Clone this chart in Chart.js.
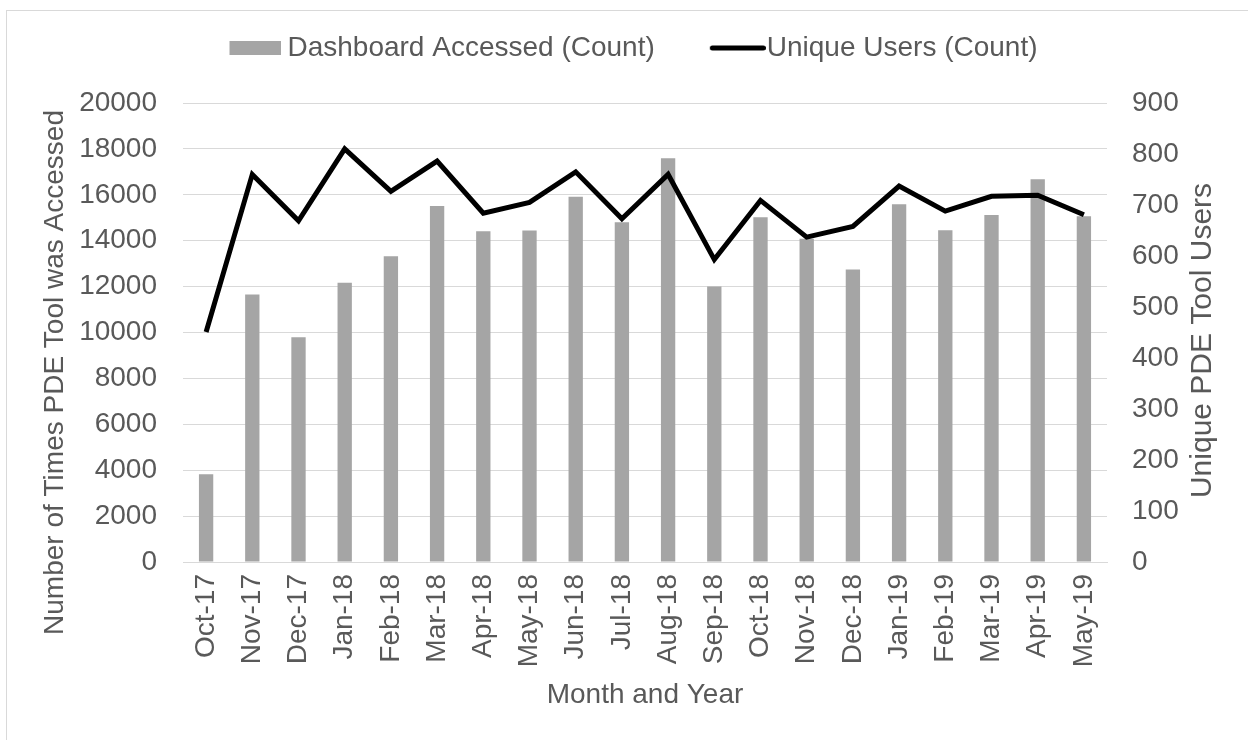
<!DOCTYPE html>
<html>
<head>
<meta charset="utf-8">
<script src="https://cdn.jsdelivr.net/npm/chart.js@4.4.1/dist/chart.umd.min.js"></script>
<style>
  html, body { margin: 0; padding: 0; background: #fff; overflow: hidden; }
  #wrap { position: relative; width: 1248px; height: 740px; }
  #frame { position: absolute; left: 6px; top: 10px; width: 1300px; height: 800px; border: 1px solid #d9d9d9; }
  #chart { position: absolute; left: 0; top: 0; }
</style>
</head>
<body>
<div id="wrap">
  <div id="frame"></div>
  <canvas id="chart" width="1248" height="740"></canvas>
</div>
<script>
// data
const months = ["Oct-17", "Nov-17", "Dec-17", "Jan-18", "Feb-18", "Mar-18", "Apr-18", "May-18", "Jun-18", "Jul-18",
  "Aug-18", "Sep-18", "Oct-18", "Nov-18", "Dec-18", "Jan-19", "Feb-19", "Mar-19", "Apr-19", "May-19"];
const accessedCounts = [3820, 11660, 9790, 12170, 13320, 15510, 14410, 14440, 15920, 14800,
  17590, 12000, 15020, 14090, 12740, 15590, 14450, 15120, 16680, 15060];
const uniqueUsers = [451, 760, 669, 810, 727, 786, 684, 705, 765, 673,
  760, 593, 709, 637, 658, 737, 688, 717, 719, 681];

const leftTitle = "Number of Times PDE Tool was Accessed";
const rightTitle = "Unique PDE Tool Users";
const xTitle = "Month and Year";

const textColor = "#595959";
const gridColor = "#d9d9d9";
const barColor = "#a5a5a5";
const fontFamily = "'Liberation Sans', Arial, sans-serif";

Chart.defaults.font.family = fontFamily;
Chart.defaults.font.size = 28;
Chart.defaults.color = textColor;

// legend glyphs: Excel puts the text closer to the swatch than Chart.js does,
// so the swatch is drawn into a small canvas that hangs to the left
function barSwatch() {
  const c = document.createElement("canvas");
  c.width = 60; c.height = 14;
  const g = c.getContext("2d");
  g.fillStyle = barColor;
  g.fillRect(8, 0, 52, 14);
  return c;
}
function lineSwatch() {
  const c = document.createElement("canvas");
  c.width = 70; c.height = 8;
  const g = c.getContext("2d");
  g.strokeStyle = "#000";
  g.lineWidth = 5;
  g.lineCap = "round";
  g.beginPath();
  g.moveTo(16.5, 4);
  g.lineTo(67.5, 4);
  g.stroke();
  return c;
}

// legend needs more room than Chart.js gives it
const legendHeight = {
  id: "legendHeight",
  beforeInit(chart) {
    const fit = chart.legend.fit;
    chart.legend.fit = function () {
      fit.bind(chart.legend)();
      this.height = 123;
    };
  },
};

// both y titles read bottom-to-top and are not centred on the plot like Chart.js would do
function drawVerticalText(ctx, text, x, y, size) {
  ctx.save();
  ctx.translate(x, y);
  ctx.rotate(-Math.PI / 2);
  ctx.font = size + "px " + fontFamily;
  ctx.fillStyle = textColor;
  ctx.textAlign = "center";
  ctx.textBaseline = "middle";
  ctx.fillText(text, 0, 0);
  ctx.restore();
}
const axisTitles = {
  id: "axisTitles",
  afterDraw(chart) {
    const area = chart.chartArea;
    const mid = (area.top + area.bottom) / 2;
    drawVerticalText(chart.ctx, leftTitle, chart.scales.y.left + 36, mid + 40, 28);
    drawVerticalText(chart.ctx, rightTitle, chart.scales.y1.right - 45, mid + 8, 30);
  },
};

const ctx = document.getElementById("chart").getContext("2d");
new Chart(ctx, {
  type: "bar",
  data: {
    labels: months,
    datasets: [
      {
        type: "bar",
        label: "Dashboard Accessed (Count)",
        data: accessedCounts,
        backgroundColor: barColor,
        borderWidth: 0,
        barPercentage: 0.31,
        categoryPercentage: 1,
        pointStyle: barSwatch(),
        yAxisID: "y",
        order: 2,
      },
      {
        type: "line",
        label: "Unique Users (Count)",
        data: uniqueUsers,
        borderColor: "#000",
        backgroundColor: "#000",
        borderWidth: 5,
        pointRadius: 0,
        pointStyle: lineSwatch(),
        tension: 0,
        yAxisID: "y1",
        order: 1,
      },
    ],
  },
  options: {
    responsive: false,
    animation: false,
    devicePixelRatio: 1,
    layout: { padding: { top: -20, left: 19, right: 0, bottom: 0 } },
    plugins: {
      legend: {
        position: "top",
        labels: {
          usePointStyle: true,
          pointStyleWidth: 44,
          boxHeight: 14,
          padding: 54,
          color: textColor,
          font: { size: 28 },
          sort: (a, b) => a.datasetIndex - b.datasetIndex,
        },
      },
      tooltip: { enabled: false },
    },
    scales: {
      x: {
        grid: { display: false, drawTicks: false },
        border: { display: true, color: gridColor, width: 1 },
        ticks: { minRotation: 90, maxRotation: 90, padding: 12, autoSkip: false },
        title: { display: true, text: xTitle, padding: { top: 0, bottom: 28 } },
        afterFit: (s) => { s.height = 178; },
      },
      y: {
        position: "left",
        min: 0,
        max: 20000,
        ticks: { stepSize: 2000, padding: 26, callback: (v) => String(v) },
        grid: { color: gridColor, lineWidth: 1, drawTicks: false },
        border: { display: false },
        afterFit: (s) => { s.width = 164; },
      },
      y1: {
        position: "right",
        min: 0,
        max: 900,
        ticks: { stepSize: 100, padding: 25 },
        grid: { display: false, drawTicks: false },
        border: { display: false },
        afterFit: (s) => { s.width = 141; },
      },
    },
  },
  plugins: [legendHeight, axisTitles],
});
</script>
</body>
</html>
